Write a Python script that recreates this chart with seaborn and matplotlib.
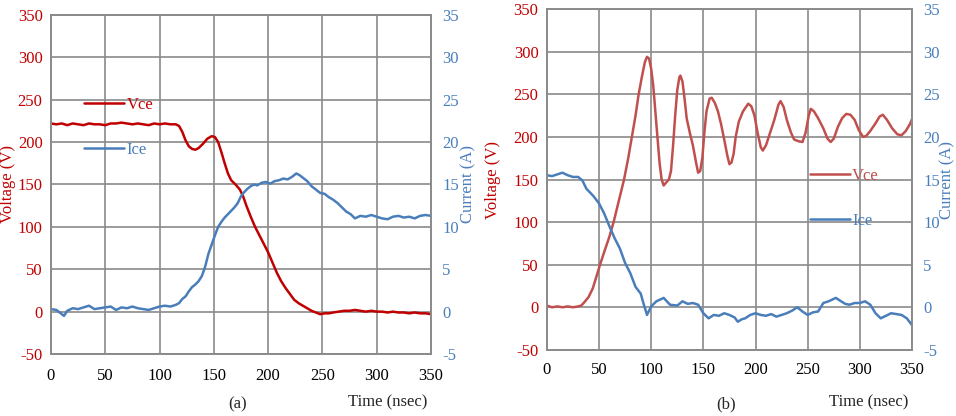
import matplotlib
matplotlib.use("Agg")
import matplotlib.pyplot as plt
import pandas as pd
import seaborn as sns

# ---- data ----
# panel (a)
t_vce_a = [0, 5, 10, 15, 20, 25, 30, 35, 40, 45, 50, 55, 60, 65, 70, 75, 80, 85, 90, 95, 100, 105, 110, 115,
           118, 121, 124, 127, 130, 133, 136, 140, 144, 148, 151, 154, 157, 160, 163, 166, 170, 174, 177, 180,
           184, 188, 192, 196, 200, 204, 208, 212, 216, 220, 224, 228, 232, 236, 240, 244, 248, 252, 256, 260,
           265, 270, 275, 280, 285, 290, 295, 300, 305, 310, 315, 320, 325, 330, 335, 340, 345, 350]
vce_a = [222, 221, 222, 220, 222, 221, 220, 222, 221, 221, 220, 222, 222, 223, 222, 221, 222, 221, 220, 222,
         221, 222, 221, 221, 219, 212, 202, 195, 192, 191, 193, 198, 204, 207, 206, 200, 188, 175, 163, 155,
         150, 144, 136, 125, 112, 100, 90, 80, 70, 58, 46, 36, 28, 21, 14, 10, 7, 4, 1, -1, -3, -2, -2, -1,
         0, 1, 1, 2, 1, 0, 1, 0, 0, -1, 0, -1, -1, -2, -1, -2, -2, -3]

t_ice_a = [0, 5, 10, 12, 15, 20, 25, 30, 35, 40, 45, 50, 55, 60, 65, 70, 75, 80, 85, 90, 95, 100, 105, 110,
           115, 118, 121, 124, 127, 130, 133, 136, 139, 142, 145, 148, 151, 154, 157, 160, 163, 166, 169, 172,
           175, 178, 181, 184, 187, 190, 194, 198, 202, 206, 210, 214, 218, 222, 226, 229, 232, 236, 240, 244,
           248, 252, 256, 260, 264, 268, 272, 276, 280, 285, 290, 295, 300, 305, 310, 315, 320, 325, 330, 335,
           340, 345, 350]
ice_a = [0.3, 0.2, -0.3, -0.5, 0.1, 0.4, 0.3, 0.5, 0.7, 0.3, 0.4, 0.5, 0.6, 0.2, 0.5, 0.4, 0.6, 0.4, 0.3, 0.2,
         0.4, 0.6, 0.7, 0.6, 0.8, 1.0, 1.5, 1.8, 2.4, 2.9, 3.2, 3.6, 4.2, 5.3, 6.8, 7.9, 9.0, 10.0, 10.6, 11.1,
         11.5, 11.9, 12.3, 12.8, 13.6, 14.1, 14.5, 14.8, 15.0, 14.9, 15.2, 15.3, 15.1, 15.4, 15.5, 15.7, 15.6,
         15.9, 16.3, 16.1, 15.8, 15.4, 14.8, 14.4, 14.0, 13.9, 13.5, 13.2, 12.8, 12.3, 11.8, 11.5, 11.0, 11.3,
         11.2, 11.4, 11.2, 11.0, 10.9, 11.2, 11.3, 11.1, 11.2, 11.0, 11.3, 11.4, 11.3]

# panel (b)
t_vce_b = [0, 5, 10, 15, 20, 25, 30, 33, 36, 40, 44, 48, 51, 55, 60, 64, 69, 74, 78, 81.5, 85, 88, 91, 94, 96,
           98, 100, 102, 104, 106, 108, 110, 112, 114, 117, 119, 121, 123, 125, 127, 128, 130, 132, 134, 137,
           140, 143, 145, 147, 149, 151, 153, 156, 158, 161, 164, 167, 170, 173, 175, 177, 179, 181, 184, 188,
           193, 196, 199, 202, 205, 207, 210, 214, 218, 222, 224, 227, 230, 234, 237, 241, 245, 248, 251, 253,
           256, 260, 265, 269, 272, 275, 279, 283, 287, 291, 295, 299, 303, 306, 310, 315, 319, 322, 326, 331,
           336, 340, 344, 348, 350]
vce_b = [2, 0, 1, 0, 1, 0, 1, 2, 6, 12, 22, 38, 50, 65, 83, 100, 125, 150, 175, 200, 225, 250, 270, 288, 294,
         292, 280, 260, 230, 200, 170, 150, 143, 146, 150, 160, 190, 225, 255, 270, 272, 265, 245, 222, 205,
         190, 170, 158, 160, 175, 205, 230, 245, 246, 240, 230, 215, 197, 178, 168, 170, 180, 200, 218, 230,
         239, 236, 225, 205, 188, 184, 190, 205, 220, 238, 242, 235, 220, 205, 197, 195, 194, 205, 225, 233,
         230, 222, 210, 198, 194, 198, 212, 222, 227, 226, 220, 208, 200, 201, 207, 216, 224, 226, 220, 210,
         203, 202, 207, 215, 221]

t_ice_b = [0, 5, 10, 15, 20, 25, 30, 34, 38, 42, 45, 50, 55, 60, 65, 70, 75, 80, 85, 90, 93, 96, 100, 105, 112,
           118, 125, 130, 135, 140, 145, 150, 155, 160, 165, 170, 175, 180, 183, 187, 190, 195, 200, 205, 210,
           215, 220, 225, 230, 235, 240, 245, 250, 255, 260, 265, 270, 277, 282, 286, 290, 295, 300, 305, 310,
           315, 320, 325, 330, 335, 340, 345, 350]
ice_b = [15.5, 15.4, 15.6, 15.8, 15.5, 15.3, 15.3, 14.9, 13.9, 13.4, 13.0, 12.2, 11.0, 9.5, 8.1, 6.9, 5.2, 4.0,
         2.4, 1.6, 0.3, -0.9, 0.1, 0.7, 1.1, 0.3, 0.2, 0.7, 0.4, 0.5, 0.3, -0.7, -1.3, -0.9, -1.0, -0.7, -0.9,
         -1.2, -1.7, -1.4, -1.3, -0.9, -0.7, -0.9, -1.0, -0.8, -1.1, -0.9, -0.7, -0.4, 0.0, -0.5, -0.9, -0.6,
         -0.5, 0.5, 0.7, 1.1, 0.7, 0.4, 0.3, 0.5, 0.5, 0.7, 0.3, -0.7, -1.3, -1.0, -0.7, -0.8, -0.9, -1.3, -2.1]

x_ticks = [0, 50, 100, 150, 200, 250, 300, 350]
v_ticks = [-50, 0, 50, 100, 150, 200, 250, 300, 350]
i_ticks = [-5, 0, 5, 10, 15, 20, 25, 30, 35]

sns.set_style("white")
plt.rcParams['font.family'] = ['Liberation Serif', 'DejaVu Serif']
plt.rcParams['axes.unicode_minus'] = False

RED_TXT = '#C00000'
BLUE = '#4A7EBB'
GRID = '#8a8a8a'

fig = plt.figure(figsize=(9.56, 4.16), dpi=100)


def panel(rect, tv, v, ti, i, vcol, tag, leg_xy, vlabel_x, ilabel_x, xpad):
    ax = fig.add_axes(rect)
    ax2 = ax.twinx()
    sns.lineplot(data=pd.DataFrame({'t': tv, 'v': v}), x='t', y='v', ax=ax, color=vcol, lw=1.8, label='Vce',
                 legend=False)
    sns.lineplot(data=pd.DataFrame({'t': ti, 'i': i}), x='t', y='i', ax=ax2, color=BLUE, lw=1.8, label='Ice',
                 legend=False)
    ax.set_xlim(0, 350)
    ax.set_ylim(-50, 350)
    ax2.set_ylim(-5, 35)
    ax.set_xticks(x_ticks)
    ax.set_yticks(v_ticks)
    ax2.set_yticks(i_ticks)
    ax.grid(True, color=GRID, lw=1.2)
    ax.set_axisbelow(True)
    for a in (ax, ax2):
        for s in a.spines.values():
            s.set_color(GRID)
            s.set_linewidth(1.2)
    ax.tick_params(axis='both', length=0, labelsize=12, pad=6)
    ax.tick_params(axis='y', colors=RED_TXT)
    ax.tick_params(axis='x', colors='black', pad=xpad)
    ax2.tick_params(axis='y', length=0, labelsize=12, colors=BLUE, pad=8)
    ax.set_xlabel('')
    ax.set_ylabel('')
    ax2.set_ylabel('')
    fig.text(vlabel_x, rect[1] + rect[3] * 0.5, 'Voltage (V)', rotation=90, color=RED_TXT, fontsize=12,
             ha='center', va='center')
    fig.text(ilabel_x, rect[1] + rect[3] * 0.5, 'Current (A)', rotation=90, color=BLUE, fontsize=12,
             ha='center', va='center')
    fig.text(rect[0] + rect[2] - 0.004, 0.033, 'Time (nsec)', fontsize=12, ha='right', va='center')
    fig.text(rect[0] + rect[2] * 0.49, 0.028, tag, fontsize=12, ha='center', va='center')
    h1, l1 = ax.get_legend_handles_labels()
    h2, l2 = ax2.get_legend_handles_labels()
    leg = ax2.legend(h1 + h2, l1 + l2, loc='upper left', bbox_to_anchor=leg_xy, bbox_transform=fig.transFigure,
                     frameon=False, fontsize=12, handlelength=2.4, handletextpad=0.15, labelspacing=1.75,
                     borderpad=0, borderaxespad=0)
    for txt, c in zip(leg.get_texts(), [vcol, BLUE]):
        txt.set_color(c)
    return ax


panel([0.0533, 0.149, 0.3975, 0.815], t_vce_a, vce_a, t_ice_a, ice_a, '#C00000', '(a)',
      (0.088, 0.768), 0.0085, 0.490, 10)
panel([0.572, 0.159, 0.382, 0.819], t_vce_b, vce_b, t_ice_b, ice_b, '#C0504D', '(b)',
      (0.847, 0.597), 0.516, 0.991, 9)

fig.savefig('out.png', dpi=100)
